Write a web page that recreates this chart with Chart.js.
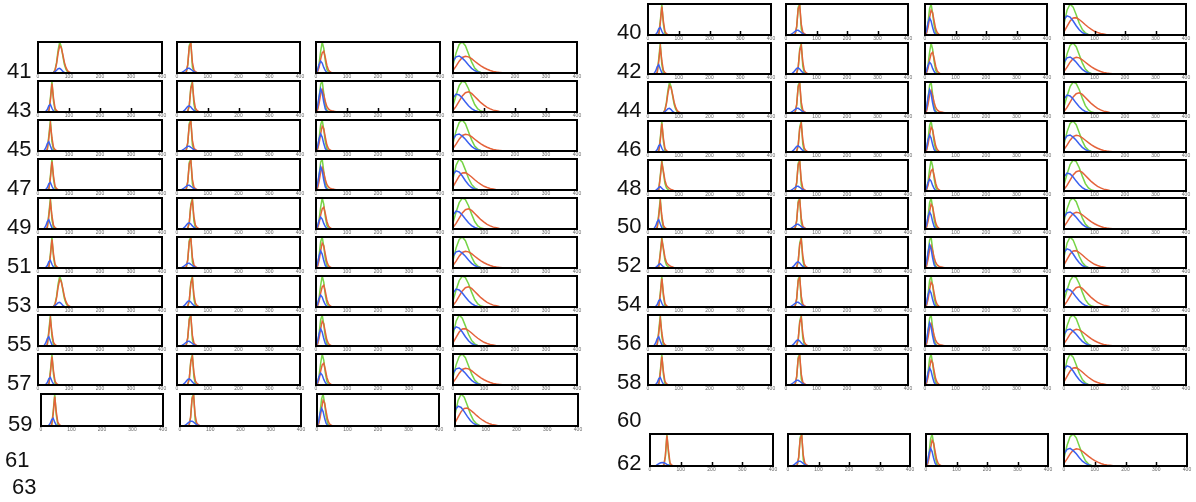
<!DOCTYPE html>
<html>
<head>
<meta charset="utf-8">
<script src="https://cdn.jsdelivr.net/npm/chart.js@4.4.1/dist/chart.umd.min.js"></script>
<style>
  html, body { margin: 0; padding: 0; background: #fff; }
  #page { position: relative; width: 1196px; height: 502px; overflow: hidden; font-family: "Liberation Sans", Arial, sans-serif; }
  .panel { position: absolute; }
  .lab { position: absolute; font-size: 22px; line-height: 22px; color: #111; }
</style>
</head>
<body>
<div id="page"></div>
<script>
// bin positions
const fineX = [0, 5, 10, 15, 20, 25, 30, 35, 40, 45, 50, 55, 60, 65, 70, 75, 80, 85, 90, 95, 100, 105, 110, 115, 120, 125, 130, 135, 140, 145, 150];
const wideX = [0, 10, 20, 30, 40, 50, 60, 70, 80, 90, 100, 110, 120, 130, 140, 150, 160, 170, 180, 190, 200];
const xTicks = [0, 100, 200, 300, 400];

// narrow peaks (first two columns)
const nA_green = [0, 0, 0, 0, 0, 0, 0, 3, 45, 100, 35, 5, 0];
const nA_red = [0, 0, 0, 0, 0, 0, 0, 4, 38, 92, 45, 12, 4, 1, 0];
const nA_blue = [0, 0, 0, 0, 0, 2, 8, 20, 24, 12, 3, 0];

const nA2_green = [0, 0, 0, 0, 0, 0, 4, 50, 100, 30, 4, 0];
const nA2_red = [0, 0, 0, 0, 0, 0, 5, 42, 88, 42, 12, 4, 1, 0];
const nA2_blue = [0, 0, 0, 0, 2, 10, 24, 30, 16, 4, 0];

const nB_green = [0, 0, 0, 0, 0, 0, 0, 0, 0, 0, 2, 10, 35, 75, 100, 85, 55, 28, 12, 4, 1, 0];
const nB_red = [0, 0, 0, 0, 0, 0, 0, 0, 0, 0, 2, 8, 30, 65, 88, 82, 60, 35, 18, 8, 3, 1, 0];
const nB_blue = [0, 0, 0, 0, 0, 0, 0, 0, 0, 0, 1, 4, 9, 14, 15, 11, 5, 2, 0];

const nC_green = [0, 0, 0, 0, 0, 0, 2, 25, 90, 100, 20, 3, 0];
const nC_red = [0, 0, 0, 0, 0, 0, 3, 28, 85, 95, 35, 10, 4, 2, 1, 0];
const nC_blue = [0, 0, 0, 1, 4, 8, 12, 15, 15, 12, 8, 4, 2, 0];

const nC2_green = [0, 0, 0, 0, 0, 0, 0, 2, 20, 80, 100, 25, 3, 0];
const nC2_red = [0, 0, 0, 0, 0, 0, 0, 3, 22, 75, 92, 40, 12, 5, 2, 0];
const nC2_blue = [0, 0, 0, 0, 2, 6, 12, 18, 20, 16, 10, 5, 2, 0];

const nD_green = [0, 0, 0, 0, 0, 0, 0, 5, 50, 100, 60, 25, 10, 4, 1, 0];
const nD_red = [0, 0, 0, 0, 0, 0, 0, 5, 45, 90, 65, 35, 18, 12, 8, 5, 3, 1, 0];
const nD_blue = [0, 0, 0, 0, 0, 2, 6, 12, 14, 9, 4, 1, 0];

const nE_green = [0, 0, 0, 0, 0, 0, 0, 0, 0, 2, 30, 100, 40, 4, 0];
const nE_red = [0, 0, 0, 0, 0, 0, 0, 0, 0, 3, 32, 95, 50, 10, 3, 1, 0];
const nE_blue = [0, 0, 0, 0, 2, 5, 8, 10, 11, 10, 8, 5, 3, 1, 0];

// third column
const c3A_green = [0, 6, 30, 70, 100, 80, 40, 12, 3, 0];
const c3A_red = [0, 4, 18, 45, 65, 70, 50, 25, 10, 4, 1, 0];
const c3A_blue = [0, 10, 28, 38, 32, 18, 8, 2, 0];

const c3B_green = [0, 10, 48, 90, 100, 60, 20, 6, 2, 0];
const c3B_red = [0, 6, 28, 58, 72, 56, 34, 18, 10, 6, 4, 3, 2, 1, 0];
const c3B_blue = [0, 18, 50, 75, 62, 32, 10, 3, 0];

const c3C_green = [0, 8, 40, 85, 100, 70, 30, 8, 2, 0];
const c3C_red = [0, 5, 25, 55, 80, 72, 45, 20, 8, 3, 1, 0];
const c3C_blue = [0, 14, 40, 55, 45, 24, 8, 2, 0];

// fourth column, broad
const w1_green = [25, 65, 92, 100, 88, 62, 36, 16, 6, 2, 0];
const w1_red = [8, 22, 38, 50, 54, 52, 46, 38, 30, 23, 17, 12, 8, 5, 3, 2, 1, 0];
const w1_blue = [38, 52, 55, 48, 38, 26, 15, 8, 3, 1, 0];

const w2_green = [20, 55, 85, 100, 95, 75, 48, 24, 10, 3, 1, 0];
const w2_red = [5, 18, 35, 52, 62, 65, 60, 50, 40, 30, 22, 15, 10, 6, 4, 2, 1, 0];
const w2_blue = [45, 58, 55, 45, 32, 20, 11, 5, 2, 0];

const w3_green = [35, 80, 100, 90, 65, 38, 18, 7, 2, 0];
const w3_red = [10, 28, 45, 55, 56, 50, 42, 33, 25, 18, 12, 8, 5, 3, 1, 0];
const w3_blue = [50, 62, 58, 45, 30, 17, 8, 3, 1, 0];

const shapes = {
  nA: [fineX, nA_green, nA_red, nA_blue],
  nA2: [fineX, nA2_green, nA2_red, nA2_blue],
  nB: [fineX, nB_green, nB_red, nB_blue],
  nC: [fineX, nC_green, nC_red, nC_blue],
  nC2: [fineX, nC2_green, nC2_red, nC2_blue],
  nD: [fineX, nD_green, nD_red, nD_blue],
  nE: [fineX, nE_green, nE_red, nE_blue],
  c3A: [fineX, c3A_green, c3A_red, c3A_blue],
  c3B: [fineX, c3B_green, c3B_red, c3B_blue],
  c3C: [fineX, c3C_green, c3C_red, c3C_blue],
  w1: [wideX, w1_green, w1_red, w1_blue],
  w2: [wideX, w2_green, w2_red, w2_blue],
  w3: [wideX, w3_green, w3_red, w3_blue]
};

// row labels and which shape sits in each of the four panels
const leftLabels = ['41', '43', '45', '47', '49', '51', '53', '55', '57', '59'];
const leftShapes = [
  ['nB', 'nC', 'c3A', 'w1'],
  ['nA', 'nC2', 'c3B', 'w2'],
  ['nA2', 'nC', 'c3C', 'w1'],
  ['nA', 'nC', 'c3B', 'w3'],
  ['nA2', 'nC2', 'c3A', 'w2'],
  ['nA', 'nC', 'c3C', 'w1'],
  ['nB', 'nC2', 'c3A', 'w2'],
  ['nA2', 'nC', 'c3C', 'w3'],
  ['nA', 'nC2', 'c3A', 'w1'],
  ['nA', 'nC', 'c3C', 'w3']
];
const rightLabels = ['40', '42', '44', '46', '48', '50', '52', '54', '56', '58', '62'];
const rightShapes = [
  ['nA', 'nC', 'c3C', 'w3'],
  ['nA2', 'nC2', 'c3A', 'w1'],
  ['nB', 'nC', 'c3B', 'w2'],
  ['nA', 'nC2', 'c3C', 'w1'],
  ['nD', 'nC', 'c3A', 'w2'],
  ['nA2', 'nC', 'c3C', 'w1'],
  ['nD', 'nC2', 'c3B', 'w3'],
  ['nA', 'nC', 'c3C', 'w2'],
  ['nA2', 'nC2', 'c3B', 'w1'],
  ['nA', 'nC', 'c3C', 'w3'],
  ['nE', 'nC', 'c3C', 'w1']
];
const emptyLabels = [['61', 5, 460], ['63', 12, 487], ['60', 617, 420]];

// layout (pixels)
const leftTops = [42, 81, 120, 159, 198, 237, 276, 315, 354, 394];
const leftHeights = [31, 31, 31, 31, 31, 31, 31, 31, 31, 32];
const leftCols = [[38, 124], [177, 123], [316, 124], [453, 124]];
const leftColsLast = [[41, 122], [180, 121], [317, 122], [455, 123]];
const rightTops = [4, 43, 82, 121, 160, 198, 237, 276, 315, 354, 434];
const rightHeights = [31, 31, 31, 31, 31, 31, 31, 31, 31, 31, 32];
const rightCols = [[648, 123], [786, 122], [925, 122], [1064, 122]];
const rightColsLast = [[650, 123], [788, 122], [926, 122], [1064, 123]];
const tickedRows = ['43', '40', '62'];

const GREEN = 'rgb(118, 212, 70)';
const RED = 'rgb(228, 98, 58)';
const BLUE = 'rgb(58, 96, 240)';

const page = document.getElementById('page');

const boxPlugin = {
  id: 'box',
  afterDraw(chart, args, opts) {
    const { ctx, chartArea: a } = chart;
    ctx.save();
    if (opts.ticks) {
      const sx = chart.scales.x;
      ctx.strokeStyle = '#000';
      ctx.lineWidth = 1.5;
      [100, 200, 300].forEach(v => {
        const px = Math.round(sx.getPixelForValue(v)) + 0.5;
        ctx.beginPath();
        ctx.moveTo(px, a.bottom);
        ctx.lineTo(px, a.bottom - 4);
        ctx.stroke();
      });
    }
    ctx.strokeStyle = '#000';
    ctx.lineWidth = 2;
    ctx.strokeRect(a.left, a.top, a.right - a.left, a.bottom - a.top);
    ctx.restore();
  }
};

function series(xs, ys) {
  return ys.map((y, i) => ({ x: xs[i], y: y }));
}

function addLabel(text, x, cy) {
  const d = document.createElement('div');
  d.className = 'lab';
  d.textContent = text;
  d.style.left = x + 'px';
  d.style.top = (cy - 11) + 'px';
  page.appendChild(d);
}

function addPanel(x, y, w, h, shapeName, ticks) {
  const [xs, g, r, b] = shapes[shapeName];
  const div = document.createElement('div');
  div.className = 'panel';
  div.style.left = (x - 10) + 'px';
  div.style.top = (y - 3) + 'px';
  const canvas = document.createElement('canvas');
  canvas.width = w + 20;
  canvas.height = h + 14;
  div.appendChild(canvas);
  page.appendChild(div);

  new Chart(canvas, {
    type: 'line',
    data: {
      datasets: [
        { data: series(xs, b), borderColor: BLUE },
        { data: series(xs, r), borderColor: RED },
        { data: series(xs, g), borderColor: GREEN }
      ]
    },
    options: {
      animation: false,
      responsive: false,
      layout: { padding: { left: 10, right: 10, top: 3, bottom: 3 }, autoPadding: false },
      plugins: { legend: { display: false }, tooltip: { enabled: false }, box: { ticks: ticks } },
      elements: { point: { radius: 0 }, line: { borderWidth: 1.5, tension: 0 } },
      scales: {
        x: {
          type: 'linear', min: 0, max: 400,
          afterBuildTicks: (s) => { s.ticks = xTicks.map(v => ({ value: v })); },
          ticks: { font: { size: 5, family: 'Liberation Sans' }, color: '#666', padding: 1, maxRotation: 0, autoSkip: false },
          grid: { display: false, drawTicks: false },
          border: { display: false }
        },
        y: { min: 0, max: 100, display: false }
      }
    },
    plugins: [boxPlugin]
  });
}

leftLabels.forEach((lab, i) => {
  const cols = i === leftLabels.length - 1 ? leftColsLast : leftCols;
  cols.forEach(([x, w], j) => addPanel(x, leftTops[i], w, leftHeights[i], leftShapes[i][j], tickedRows.includes(lab)));
  addLabel(lab, i === leftLabels.length - 1 ? 8 : 7, leftTops[i] + leftHeights[i] - 2);
});

rightLabels.forEach((lab, i) => {
  const cols = i === rightLabels.length - 1 ? rightColsLast : rightCols;
  cols.forEach(([x, w], j) => addPanel(x, rightTops[i], w, rightHeights[i], rightShapes[i][j], tickedRows.includes(lab)));
  addLabel(lab, 617, rightTops[i] + rightHeights[i] - 3);
});

emptyLabels.forEach(([t, x, cy]) => addLabel(t, x, cy));
</script>
</body>
</html>
